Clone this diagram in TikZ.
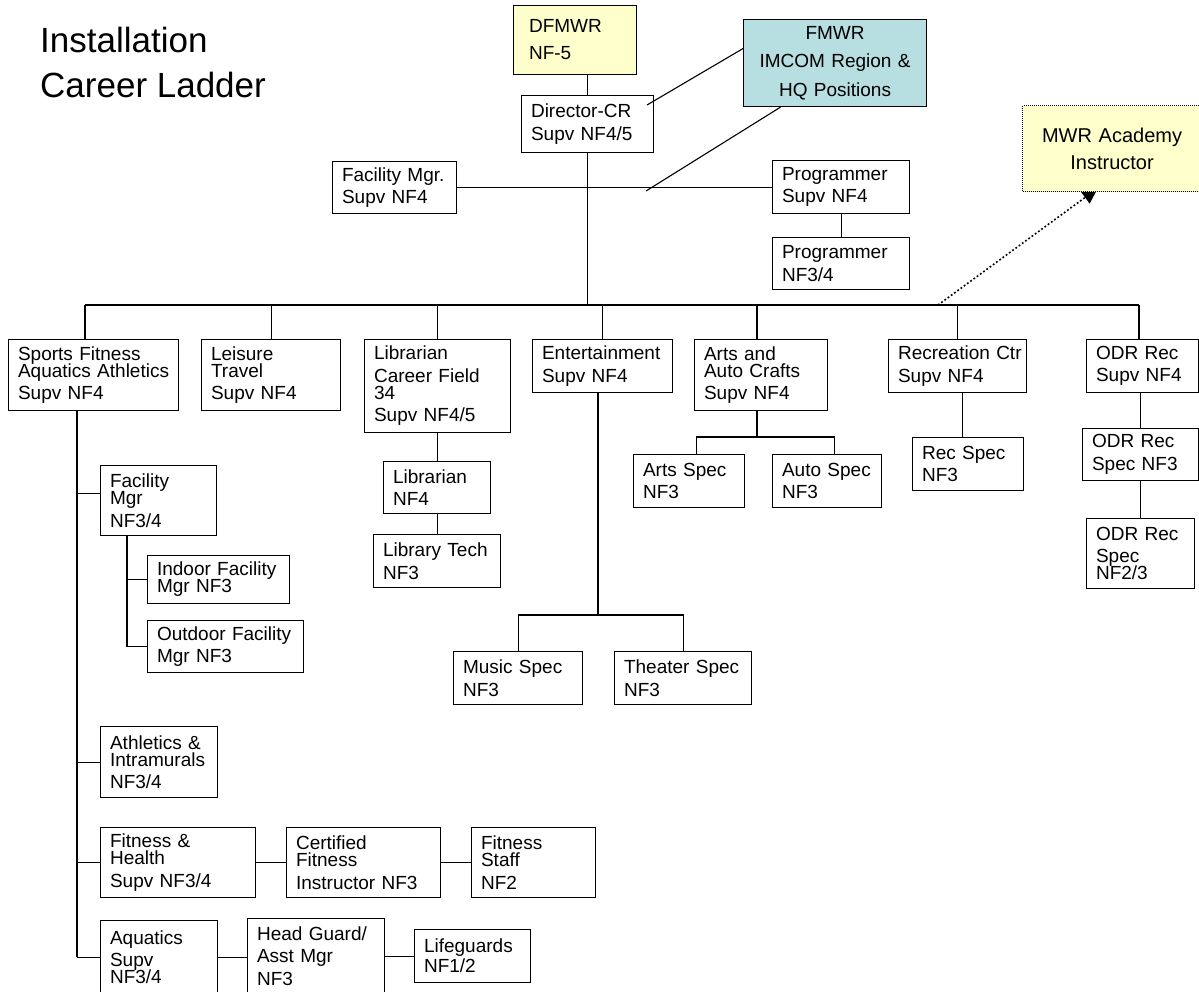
\documentclass[tikz,border=0pt]{standalone}
\usepackage{fontspec}
\setmainfont{Liberation Sans}
\usetikzlibrary{arrows.meta}

\definecolor{notepad}{RGB}{255,255,204}
\definecolor{regionteal}{RGB}{183,222,224}

\pgfdeclarelayer{bg}
\pgfsetlayers{bg,main}

% boxes: corners given in picture units (1 unit = 1pt, y grows downwards)
\newcommand\orgbox[7][]{%
  \pgfmathsetmacro\obw{#5-#3}%
  \pgfmathsetmacro\obh{#6-#4}%
  \node[ob,minimum width=\obw pt,minimum height=\obh pt,text width=\obw pt,#1] (#2) at (#3,#4) {#7};%
}
% tighter break between the wrapped lines of one entry
\newcommand\tl{\\[-5.5pt]}

\tikzset{
  obase/.style={draw=black, line width=1.1pt, fill=white, anchor=north west,
    inner sep=0pt, align=left, font=\fontsize{19pt}{22.5pt}\selectfont},
  ob/.style={obase, execute at begin node={\leftskip=9.5pt\relax}},
  centred/.style={align=center, execute at begin node={\leftskip=0pt plus 1fil\rightskip=0pt plus 1fil\parfillskip=0pt\relax}},
  link/.style={line width=1.1pt, draw=black},
  dotlink/.style={line width=1.6pt, dash pattern=on 1.8pt off 2.2pt},
}

\begin{document}
\begin{tikzpicture}[x=1pt,y=-1pt]
\useasboundingbox (0,0) rectangle (1199,991);

% title
\node[anchor=north west, inner sep=0pt, align=left,
  font=\fontsize{35pt}{45pt}\selectfont] (title) at (40,27) {Installation\\Career Ladder};

% top of the ladder
\orgbox[fill=notepad, font=\fontsize{19pt}{27pt}\selectfont,
  execute at begin node={\leftskip=15.5pt\relax}]{dfmwr}{513}{5}{636}{74}{DFMWR\\NF-5}
\orgbox[fill=regionteal, centred, font=\fontsize{19pt}{28.5pt}\selectfont]{fmwr}{743}{19}{926}{106}{FMWR\\IMCOM Region \&\\HQ Positions}
\orgbox{director}{521}{95}{653}{152}{Director-CR\\Supv NF4/5}
\orgbox{facmgr}{332}{161}{456}{213}{Facility Mgr.\\Supv NF4}
\orgbox{progA}{772}{160}{909}{213}{Programmer\\Supv NF4}
\orgbox{progB}{772}{237}{909}{289}{Programmer\\NF3/4}

% academy link (kept under the box)
\coordinate (mwrS) at (938,305);
\coordinate (mwrT) at (1098,188);
\begin{pgfonlayer}{bg}
\draw[dotlink, -{Triangle[length=16pt,width=15pt]}] (mwrS) -- (mwrT);
\end{pgfonlayer}
\orgbox[fill=notepad, centred, dash pattern=on 1pt off 1pt,
  font=\fontsize{20pt}{27pt}\selectfont]{mwr}{1022}{105}{1201}{191}{MWR Academy\\Instructor}

% program heads
\orgbox{sports}{8}{339}{178}{410}{Sports Fitness\tl Aquatics Athletics\\Supv NF4}
\orgbox{leisure}{201}{339}{340}{410}{Leisure\tl Travel\\Supv NF4}
\orgbox{libcf}{364}{339}{510}{432}{Librarian\\Career Field\tl 34\\Supv NF4/5}
\orgbox{ent}{532}{339}{672}{392}{Entertainment\\Supv NF4}
\orgbox{arts}{694}{339}{827}{410}{Arts and\tl Auto Crafts\\Supv NF4}
\orgbox{recctr}{888}{339}{1026}{392}{Recreation Ctr\\Supv NF4}
\orgbox{odrA}{1086}{339}{1198}{392}{ODR Rec\\Supv NF4}
\orgbox{odrB}{1082}{428}{1198}{480}{ODR Rec\\Spec NF3}
\orgbox{odrC}{1086}{518}{1194}{588}{ODR Rec\\Spec\tl NF2/3}

% sports branch
\orgbox{facsub}{100}{465}{216}{535}{Facility\tl Mgr\\NF3/4}
\orgbox{indoor}{147}{555}{289}{603}{Indoor Facility\tl Mgr NF3}
\orgbox{outdoor}{147}{620}{303}{672}{Outdoor Facility\\Mgr NF3}
\orgbox{athl}{100}{726}{217}{797}{Athletics \&\tl Intramurals\\NF3/4}
\orgbox{fitness}{100}{827}{255}{897}{Fitness \&\tl Health\\Supv NF3/4}
\orgbox{certfit}{286}{827}{440}{897}{Certified\tl Fitness\\Instructor NF3}
\orgbox{fitstaff}{471}{827}{595}{897}{Fitness\tl Staff\\NF2}
\orgbox{aquatics}{100}{920}{217}{993}{Aquatics\\Supv\tl NF3/4}
\orgbox{headguard}{247}{918}{384}{993}{Head Guard/\\Asst Mgr\\NF3}
\orgbox{lifeguards}{414}{929}{530}{982}{Lifeguards\\[-2.5pt]NF1/2}

% library, entertainment, crafts, recreation
\orgbox{libnf4}{383}{461}{490}{513}{Librarian\\NF4}
\orgbox{libtech}{373}{534}{500}{587}{Library Tech\\NF3}
\orgbox{music}{453}{651}{582}{704}{Music Spec\\NF3}
\orgbox{theater}{614}{651}{751}{704}{Theater Spec\\NF3}
\orgbox{artsspec}{633}{454}{744}{507}{Arts Spec\\NF3}
\orgbox{autospec}{772}{454}{881}{507}{Auto Spec\\NF3}
\orgbox{recspec}{912}{437}{1023}{490}{Rec Spec\\NF3}

% junction points
\coordinate (busL) at (85,305);
\coordinate (busR) at (1139,305);
\coordinate (spV) at (77,410);
\coordinate (fsV) at (127,535);
\coordinate (entJ) at (598,615);
\coordinate (artsJ) at (757,437);
\coordinate (dirF) at (647,105);
\coordinate (fmF) at (646,191);

% upper connectors
\draw[link] (dfmwr.south -| director.north) -- (director.north);
\draw[link] (director.south) -- (director.south |- busL);
\draw[link] (facmgr.east) -- (facmgr.east -| progA.west);
\draw[link] (progA.south) -- (progB.north);
\draw[link] (dirF) -- ([yshift=14.5pt]fmwr.west);
\draw[link] ([xshift=-54.5pt]fmwr.south) -- (fmF);

% main bus
\draw[link] (busL) -- (busR);
\draw[link] (busL) -- (busL |- sports.north);
\draw[link] (leisure.north) -- (leisure.north |- busL);
\draw[link] (libcf.north) -- (libcf.north |- busL);
\draw[link] (ent.north) -- (ent.north |- busL);
\draw[link] (artsJ |- arts.north) -- (artsJ |- busL);
\draw[link] (recctr.north) -- (recctr.north |- busL);
\draw[link] (busR) -- (busR |- odrA.north);

% sports, fitness and aquatics
\draw[link] (spV) -- (spV |- aquatics.west);
\draw[link] ([yshift=7pt]facsub.west) -- ++(-23,0);
\draw[link] (athl.west) -- ++(-23,0);
\draw[link] (fitness.west) -- ++(-23,0);
\draw[link] (aquatics.west) -- ++(-23,0);
\draw[link] (fsV) |- (outdoor.west);
\draw[link] (indoor.west) -- (indoor.west -| fsV);
\draw[link] (fitness.east) -- (certfit.west);
\draw[link] (certfit.east) -- (fitstaff.west);
\draw[link] (aquatics.east) -- (aquatics.east -| headguard.west);
\draw[link] (headguard.east) -- (lifeguards.west);

% library
\draw[link] (libnf4.north |- libcf.south) -- (libnf4.north);
\draw[link] (libnf4.south) -- (libtech.north);

% entertainment
\draw[link] (entJ |- ent.south) -- (entJ);
\draw[link] (music.north) |- (entJ);
\draw[link] (theater.north) |- (entJ);

% arts and crafts
\draw[link] (artsJ |- arts.south) -- (artsJ);
\draw[link] ([xshift=7.5pt]artsspec.north) |- (artsJ);
\draw[link] ([xshift=7.5pt]autospec.north) |- (artsJ);

% recreation and outdoor
\draw[link] ([xshift=-5.5pt]recspec.north) -- ++(0,-45);
\draw[link] (odrB.north |- odrA.south) -- (odrB.north);
\draw[link] (odrB.south) -- (odrC.north);
\end{tikzpicture}
\end{document}
